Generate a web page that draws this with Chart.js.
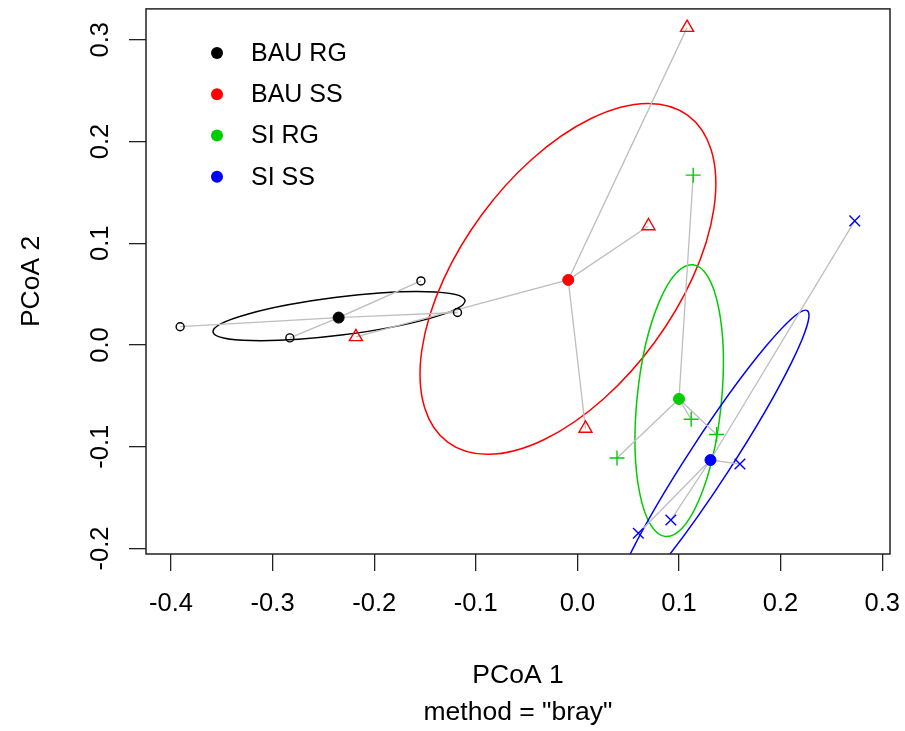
<!DOCTYPE html>
<html>
<head>
<meta charset="utf-8">
<script src="https://cdn.jsdelivr.net/npm/chart.js@4.4.0/dist/chart.umd.min.js"></script>
<style>
  html, body { margin: 0; padding: 0; background: #fff; }
</style>
</head>
<body>
<canvas id="pcoa" width="905" height="731"></canvas>
<script>
// Groups, colours and plotting symbols
const groups = ["BAU RG", "BAU SS", "SI RG", "SI SS"];
const groupColors = ["#000000", "#FF0000", "#00CD00", "#0000FF"];
const groupShapes = ["circle", "triangle", "cross", "crossRot"];

// Sample scores per group (PCoA 1 / PCoA 2)
const bauRgX = [-0.391, -0.283, -0.154, -0.118];
const bauRgY = [0.018, 0.007, 0.063, 0.032];
const bauSsX = [0.108, 0.070, 0.008, -0.218];
const bauSsY = [0.312, 0.117, -0.082, 0.008];
const siRgX = [0.114, 0.112, 0.137, 0.039];
const siRgY = [0.167, -0.073, -0.088, -0.111];
const siSsX = [0.273, 0.160, 0.092, 0.060];
const siSsY = [0.122, -0.117, -0.172, -0.185];

// Group centroids
const centroidX = [-0.235, -0.009, 0.100, 0.131];
const centroidY = [0.027, 0.064, -0.053, -0.113];

// Dispersion ellipses: centre, semi-axes and angle in degrees
const ellipseX = [-0.2346, -0.0093, 0.1002, 0.1305];
const ellipseY = [0.0284, 0.0650, -0.0547, -0.1131];
const ellipseA = [0.125, 0.1994, 0.1342, 0.1754];
const ellipseB = [0.0187, 0.1057, 0.0415, 0.0211];
const ellipseAngle = [7.1, 53.7, 84.2, 56.9];

// Axes
const xTicks = [-0.4, -0.3, -0.2, -0.1, 0.0, 0.1, 0.2, 0.3];
const yTicks = [-0.2, -0.1, 0.0, 0.1, 0.2, 0.3];
const xRange = [-0.4246, 0.3077];
const yRange = [-0.2054, 0.3304];

const sampleX = [bauRgX, bauSsX, siRgX, siSsX];
const sampleY = [bauRgY, bauSsY, siRgY, siSsY];
const FONT = '"Liberation Sans", Arial, sans-serif';

// Build datasets: centroid, samples and spider lines for each group
const datasets = [];
groups.forEach((g, i) => {
  datasets.push({
    label: g,
    data: [{ x: centroidX[i], y: centroidY[i] }],
    pointStyle: "circle",
    pointRadius: 5.5,
    backgroundColor: groupColors[i],
    borderColor: groupColors[i],
    borderWidth: 1,
    order: 0
  });
  datasets.push({
    label: g + " samples",
    data: sampleX[i].map((x, j) => ({ x, y: sampleY[i][j] })),
    pointStyle: groupShapes[i],
    pointRadius: i === 0 ? 4 : 7.5,
    backgroundColor: "rgba(0,0,0,0)",
    borderColor: groupColors[i],
    borderWidth: 1.4,
    order: 1
  });
  const star = [];
  sampleX[i].forEach((x, j) => {
    star.push({ x: centroidX[i], y: centroidY[i] }, { x, y: sampleY[i][j] });
  });
  datasets.push({
    label: g + " spider",
    data: star,
    showLine: true,
    borderColor: "#BEBEBE",
    borderWidth: 1.3,
    pointRadius: 0,
    order: 2
  });
});

// Draws the ellipses through the scales, under the datasets
const ellipsePlugin = {
  id: "ellipses",
  beforeDatasetsDraw(chart) {
    const { ctx, chartArea, scales } = chart;
    const kx = scales.x.getPixelForValue(1) - scales.x.getPixelForValue(0);
    const ky = scales.y.getPixelForValue(1) - scales.y.getPixelForValue(0);
    ctx.save();
    ctx.beginPath();
    ctx.rect(chartArea.left, chartArea.top, chartArea.right - chartArea.left, chartArea.bottom - chartArea.top);
    ctx.clip();
    groups.forEach((g, i) => {
      ctx.save();
      ctx.translate(scales.x.getPixelForValue(ellipseX[i]), scales.y.getPixelForValue(ellipseY[i]));
      ctx.scale(kx, ky);
      ctx.rotate(ellipseAngle[i] * Math.PI / 180);
      ctx.beginPath();
      ctx.ellipse(0, 0, ellipseA[i], ellipseB[i], 0, 0, Math.PI * 2);
      ctx.restore();
      ctx.lineWidth = 1.5;
      ctx.strokeStyle = groupColors[i];
      ctx.stroke();
    });
    ctx.restore();
  }
};

// Legend in the top left of the plot
const legendPlugin = {
  id: "groupLegend",
  afterDatasetsDraw(chart) {
    const { ctx, chartArea } = chart;
    ctx.save();
    ctx.font = "25px " + FONT;
    ctx.textBaseline = "middle";
    groups.forEach((g, i) => {
      const x = chartArea.left + 71;
      const y = chartArea.top + 44 + i * 41.3;
      ctx.beginPath();
      ctx.arc(x, y, 6, 0, Math.PI * 2);
      ctx.fillStyle = groupColors[i];
      ctx.fill();
      ctx.fillStyle = "#000";
      ctx.fillText(g, x + 34, y + 1);
    });
    ctx.restore();
  }
};

// Box around the plot region
const boxPlugin = {
  id: "box",
  afterDraw(chart) {
    const { ctx, chartArea } = chart;
    ctx.save();
    ctx.lineWidth = 1.5;
    ctx.strokeStyle = "#222";
    ctx.strokeRect(chartArea.left, chartArea.top, chartArea.right - chartArea.left, chartArea.bottom - chartArea.top);
    ctx.restore();
  }
};

const fmt = v => (Math.abs(v) < 1e-9 ? "0.0" : Number(v).toFixed(1));

new Chart(document.getElementById("pcoa"), {
  type: "scatter",
  data: { datasets },
  options: {
    responsive: false,
    animation: false,
    layout: { padding: { top: 8, right: 15, left: 0, bottom: 0 } },
    plugins: { legend: { display: false }, tooltip: { enabled: false } },
    scales: {
      x: {
        type: "linear",
        min: xRange[0],
        max: xRange[1],
        afterBuildTicks: s => { s.ticks = xTicks.map(v => ({ value: v })); },
        afterFit: s => { s.height = 177; s.paddingLeft = 0; s.paddingRight = 0; },
        border: { display: false },
        grid: { drawOnChartArea: false, drawTicks: true, tickLength: 17, color: "#222", lineWidth: 1.3 },
        ticks: { font: { family: FONT, size: 25.5 }, color: "#000", padding: 18, maxRotation: 0, autoSkip: false, callback: fmt },
        title: {
          display: true,
          text: ["PCoA 1", 'method = "bray"'],
          color: "#000",
          font: { family: FONT, size: 26.5, lineHeight: 1.4 },
          padding: { top: 0, bottom: 0 }
        }
      },
      y: {
        type: "linear",
        min: yRange[0],
        max: yRange[1],
        afterBuildTicks: s => { s.ticks = yTicks.map(v => ({ value: v })); },
        afterFit: s => { s.width = 146; s.paddingTop = 0; s.paddingBottom = 0; },
        border: { display: false },
        grid: { drawOnChartArea: false, drawTicks: true, tickLength: 17, color: "#222", lineWidth: 1.3 },
        ticks: { font: { family: FONT, size: 25.5 }, color: "#000", padding: 6, minRotation: 90, maxRotation: 90, crossAlign: "center", autoSkip: false, callback: fmt },
        title: {
          display: true,
          text: "PCoA 2",
          color: "#000",
          font: { family: FONT, size: 26.5 },
          padding: { top: 16, bottom: 0 }
        }
      }
    }
  },
  plugins: [ellipsePlugin, legendPlugin, boxPlugin]
});
</script>
</body>
</html>
